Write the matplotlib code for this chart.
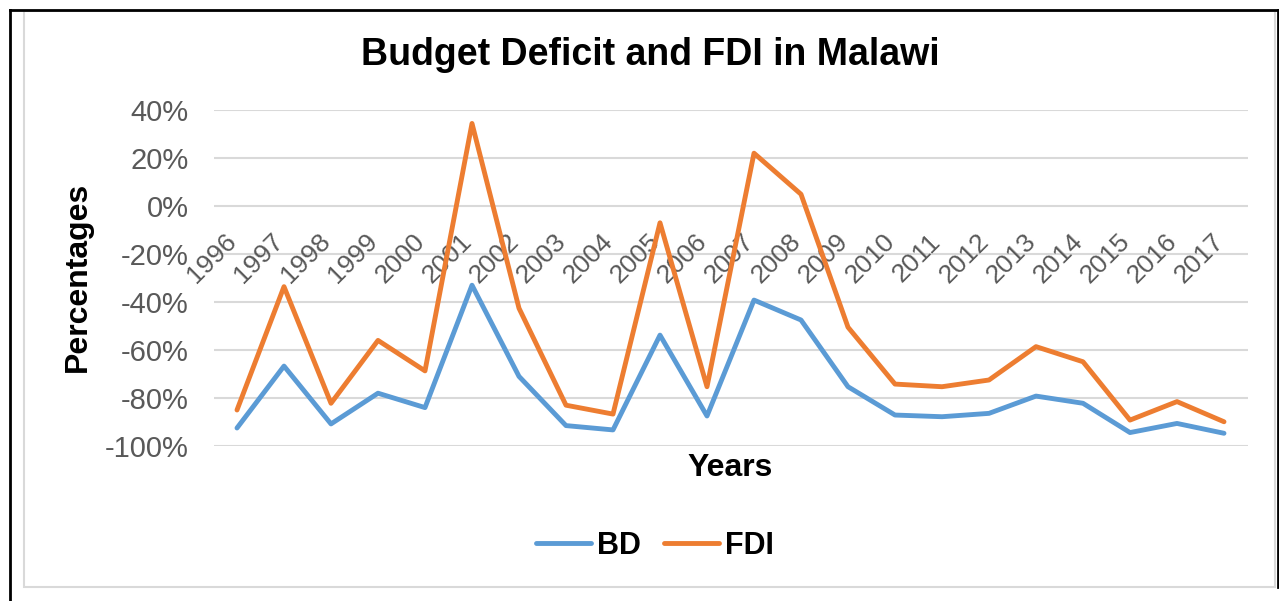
import matplotlib
matplotlib.use("Agg")
import matplotlib.pyplot as plt
from matplotlib.lines import Line2D
from matplotlib.patches import Rectangle
from matplotlib.ticker import FuncFormatter
from matplotlib.transforms import offset_copy

plt.rcParams['font.family'] = ['Liberation Sans', 'DejaVu Sans']

years = ['1996', '1997', '1998', '1999', '2000', '2001', '2002', '2003', '2004', '2005', '2006',
         '2007', '2008', '2009', '2010', '2011', '2012', '2013', '2014', '2015', '2016', '2017']
bd = [-92.5, -66.7, -90.8, -78.0, -84.0, -33.0, -71.0, -91.5, -93.3, -53.8, -87.5,
      -39.2, -47.5, -75.3, -87.1, -87.8, -86.4, -79.2, -82.2, -94.4, -90.6, -94.7]
fdi = [-85.0, -33.6, -82.2, -56.0, -68.7, 34.4, -42.6, -83.0, -86.7, -7.0, -75.3,
       22.0, 4.9, -50.5, -74.2, -75.3, -72.5, -58.6, -64.9, -89.2, -81.5, -89.9]
yticks = [-100, -80, -60, -40, -20, 0, 20, 40]

W, H = 1279, 601
fig = plt.figure(figsize=(W / 100, H / 100), dpi=100)

# frame lines
fig.add_artist(Rectangle((24 / W, 1 - 587 / H), (1275 - 24) / W, (587 - 11) / H,
                         transform=fig.transFigure, fill=False, edgecolor='#D9D9D9', linewidth=1.5))
fig.add_artist(Line2D([10 / W, 1278 / W], [1 - 10 / H, 1 - 10 / H], transform=fig.transFigure,
                      color='black', linewidth=2))
fig.add_artist(Line2D([10 / W, 10 / W], [1 - 10 / H, 0], transform=fig.transFigure,
                      color='black', linewidth=2))
fig.add_artist(Line2D([1278 / W, 1278 / W], [1 - 10 / H, 1 - 587 / H], transform=fig.transFigure,
                      color='black', linewidth=2))

ax = fig.add_axes([213.5 / W, 1 - 446 / H, 1034 / W, 336 / H])
x = list(range(len(years)))
ax.plot(x, bd, color='#5B9BD5', linewidth=3.5, solid_capstyle='round', label='BD', zorder=3)
ax.plot(x, fdi, color='#ED7D31', linewidth=3.5, solid_capstyle='round', label='FDI', zorder=3)

ax.set_xlim(-0.5, len(years) - 0.5)
ax.set_ylim(-100, 40)
ax.set_yticks(yticks)
ax.yaxis.set_major_formatter(FuncFormatter(lambda v, p: f"{int(v)}%"))
ax.grid(axis='y', color='#D9D9D9', linewidth=1.5)
ax.set_axisbelow(True)
for s in ['top', 'right', 'left', 'bottom']:
    ax.spines[s].set_visible(False)

ax.set_xticks(x)
ax.set_xticklabels([])
ax.tick_params(axis='x', length=0)
ax.tick_params(axis='y', length=0, pad=18, labelsize=21, labelcolor='#595959')

# category labels crossing at 0, rotated 45 degrees
lbl_tr = offset_copy(ax.transData, fig=fig, x=-25, y=-52, units='dots')
for i, yr in enumerate(years):
    ax.text(i, 0, yr, transform=lbl_tr, rotation=45, ha='center', va='center',
            fontsize=19, color='#595959', zorder=2)

fig.text(650 / W, 1 - 55 / H, 'Budget Deficit and FDI in Malawi', ha='center', va='center',
         fontsize=27, fontweight='bold', color='black')
fig.text(730 / W, 1 - 468 / H, 'Years', ha='center', va='center',
         fontsize=23, fontweight='bold', color='black')
fig.text(78 / W, 1 - 277 / H, 'Percentages', ha='center', va='center', rotation=90,
         fontsize=23, fontweight='bold', color='black')

leg = fig.legend(handles=ax.get_lines(), labels=['BD', 'FDI'], loc='center',
                 bbox_to_anchor=(655 / W, 1 - 546 / H), ncol=2, frameon=False,
                 prop={'size': 22, 'weight': 'bold'}, handlelength=1.8, handletextpad=0.2,
                 columnspacing=0.75)

fig.savefig('out.png', dpi=100)
